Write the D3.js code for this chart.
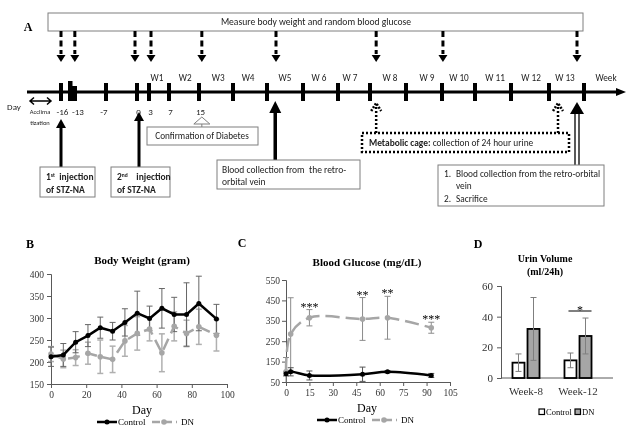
<!DOCTYPE html>
<html>
<head>
<meta charset="utf-8">
<script src="https://cdn.jsdelivr.net/npm/d3@7"></script>
<style>
body { margin: 0; background: #fff; }
svg { display: block; will-change: transform; }
</style>
</head>
<body>
<script>
// ---------- data ----------
// panel A: study timeline (days)
let tickDays = [-16, -13, -7, 0, 3, 7, 15, 21, 28, 35, 42, 49, 56, 63, 70, 77, 84, 91];
let dayLabels = ['-16', '-13', '-7', '0', '3', '7', '15'];
let weekLabels = ['W1', 'W2', 'W3', 'W4', 'W5', 'W 6', 'W 7', 'W 8', 'W 9', 'W 10', 'W 11', 'W 12', 'W 13', 'Week'];
let weekLabelDays = [4.6, 11.3, 18.4, 24.1, 31.5, 38.2, 44.6, 52.9, 60.1, 66.6, 73.9, 80.7, 87.2, 95.4];
let measureDays = [-16, -12.5, -0.45, 3.4, 15.5, 29.75, 50.2, 63.2, 89.6];
let urineDays = [50.2, 85.8];

// panel B: body weight
let bwDays = [0, 7, 14, 21, 28, 35, 42, 49, 56, 63, 70, 77, 84, 94];
let bwControl = [212, 216, 245, 260, 278, 270, 290, 311, 299, 322, 308, 308, 333, 298];
let bwControlErr = [22, 26, 24, 25, 24, 20, 31, 50, 28, 45, 39, 72, 62, 33];
let bwDN = [218, 207, 210, 220, 212, 206, 248, 265, 275, 221, 281, 265, 280, 261];
let bwDNErr = [17, 20, 18, 25, 38, 30, 35, 38, 27, 43, 33, 30, 40, 36];
let bwYTicks = [150, 200, 250, 300, 350, 400];
let bwXTicks = [0, 20, 40, 60, 80, 100];

// panel C: blood glucose
let bgDays = [0, 3, 15, 49, 65, 93];
let bgControl = [90, 100, 82, 88, 100, 82];
let bgControlErr = [10, 20, 22, 35, 5, 10];
let bgDN = [100, 285, 365, 359, 365, 316];
let bgDNErr = [70, 178, 40, 105, 105, 27];
let bgStars = ['', '', '***', '**', '**', '***'];
let bgYTicks = [50, 150, 250, 350, 450, 550];
let bgXTicks = [0, 15, 30, 45, 60, 75, 90, 105];

// panel D: urine volume
let uvWeeks = ['Week-8', 'Week-12'];
let uvGroups = ['Control', 'DN'];
let uvControl = [10, 11.5];
let uvControlErr = [5.7, 4.8];
let uvDN = [32, 27.4];
let uvDNErr = [20.5, 11.7];
let uvYTicks = [0, 20, 40, 60];

// ---------- setup ----------
let width = 628;
let height = 427;
let sans = "Calibri, Carlito, 'Liberation Sans', Arial, sans-serif";
let serif = "'Liberation Serif', 'Times New Roman', serif";
let grey = '#a6a6a6';

let svg = d3.select('body')
.append('svg')
.attr('width', width)
.attr('height', height);

svg.append('rect').attr('width', width).attr('height', height).attr('fill', '#fff');

function label(g, x, y, txt, size, opts) {
    opts = opts || {};
    return g.append('text')
    .attr('x', x).attr('y', y)
    .attr('text-anchor', opts.anchor || 'middle')
    .attr('dy', '0.35em')
    .attr('fill', opts.color || '#222')
    .style('font-family', opts.family || sans)
    .style('font-size', size + 'px')
    .style('font-weight', opts.bold ? 'bold' : 'normal')
    .text(txt);
}

function tri(x, yTip, dir, hw, hl) {
    // dir = 1: pointing down, -1: pointing up
    return d3.line()([[x - hw, yTip - dir * hl], [x, yTip], [x + hw, yTip - dir * hl]]) + 'Z';
}

// ---------- panel A ----------
let gA = svg.append('g');
label(gA, 28, 27, 'A', 12, {family: serif, bold: true, color: '#000'});

gA.append('rect')
.attr('x', 48).attr('y', 13).attr('width', 535).attr('height', 18)
.attr('fill', '#fff').attr('stroke', '#7f7f7f');
label(gA, 316, 22, 'Measure body weight and random blood glucose', 9.6);

let tl = d3.scaleLinear()
.domain(tickDays)
.range([61, 72, 106, 137, 149, 169, 199, 233, 267, 303, 338, 370, 406, 442, 475, 511, 549, 584]);
let lineY = 92;

// dashed measurement arrows
measureDays.forEach(function(d) {
    gA.append('line')
    .attr('x1', tl(d)).attr('x2', tl(d)).attr('y1', 31).attr('y2', 54)
    .attr('stroke', '#000').attr('stroke-width', 3).attr('stroke-dasharray', '6,3.5');
    gA.append('path').attr('d', tri(tl(d), 62, 1, 4.5, 7)).attr('fill', '#000');
});

// main time line
gA.append('line')
.attr('x1', 27).attr('x2', 618).attr('y1', lineY).attr('y2', lineY)
.attr('stroke', '#000').attr('stroke-width', 3);
gA.append('path').attr('d', d3.line()([[616, 88], [626, lineY], [616, 96]]) + 'Z').attr('fill', '#000');

gA.selectAll('rect.tick')
.data(tickDays.filter(d => d !== -13))
.enter()
.append('rect')
.attr('class', 'tick')
.attr('x', d => tl(d) - 2)
.attr('y', 83)
.attr('width', 4)
.attr('height', 18)
.attr('fill', '#000');
gA.append('rect').attr('x', tl(-13) - 4).attr('y', 81).attr('width', 4.5).attr('height', 20).attr('fill', '#000');
gA.append('rect').attr('x', tl(-13)).attr('y', 86).attr('width', 5).attr('height', 15).attr('fill', '#000');

weekLabels.forEach(function(w, i) {
    label(gA, tl(weekLabelDays[i]), 78, w, 9.2);
});
dayLabels.forEach(function(t) {
    let shift = t === '-13' ? 6 : (t === '-7' ? -2 : 1.5);
    label(gA, tl(+t) + shift, 112, t, 9);
});
label(gA, 14, 107, 'Day', 9);

// acclimatization
gA.append('path')
.attr('d', 'M30,101 L51,101 M34,97.5 L30,101 L34,104.5 M47,97.5 L51,101 L47,104.5')
.attr('fill', 'none').attr('stroke', '#000').attr('stroke-width', 1.5);
label(gA, 40, 112, 'Acclima', 6.5);
label(gA, 40, 123, 'tization', 6.5);

// confirmation of diabetes
gA.append('path').attr('d', tri(tl(15.5), 117, -1, 8, 7)).attr('fill', '#fff').attr('stroke', '#7f7f7f');
gA.append('line').attr('x1', tl(15.5)).attr('x2', tl(15.5)).attr('y1', 124).attr('y2', 127).attr('stroke', '#7f7f7f');
gA.append('rect').attr('x', 147).attr('y', 127).attr('width', 111).attr('height', 18)
.attr('fill', '#fff').attr('stroke', '#7f7f7f');
label(gA, 202, 136, 'Confirmation of Diabetes', 9.2);

// injection arrows
[[-16, 119], [0.5, 112]].forEach(function(a) {
    let x = tl(a[0]);
    gA.append('line').attr('x1', x).attr('x2', x).attr('y1', a[1] + 6).attr('y2', 167)
    .attr('stroke', '#000').attr('stroke-width', 3);
    gA.append('path').attr('d', tri(x, a[1], -1, 5, 9)).attr('fill', '#000');
});

function injBox(x, w, sup, ord) {
    gA.append('rect').attr('x', x).attr('y', 167).attr('width', w).attr('height', 30)
    .attr('fill', '#fff').attr('stroke', '#7f7f7f');
    let t = gA.append('text').attr('x', x + 6).attr('y', 180)
    .style('font-family', sans).style('font-size', '9.5px').style('font-weight', 'bold').attr('fill', '#222')
    .attr('xml:space', 'preserve');
    t.append('tspan').text(ord);
    t.append('tspan').attr('dy', -3).style('font-size', '5.5px').text(sup);
    t.append('tspan').attr('dy', 3).text(sup === 'st' ? '  injection' : '    injection');
    gA.append('text').attr('x', x + 6).attr('y', 193)
    .style('font-family', sans).style('font-size', '9.5px').style('font-weight', 'bold').attr('fill', '#222')
    .text('of STZ-NA');
}
injBox(40, 55, 'st', '1');
injBox(111, 59, 'nd', '2');

// blood collection
let xBlood = tl(29.6);
gA.append('line').attr('x1', xBlood).attr('x2', xBlood).attr('y1', 108).attr('y2', 160)
.attr('stroke', '#000').attr('stroke-width', 3.5);
gA.append('path').attr('d', tri(xBlood, 101, -1, 6, 12)).attr('fill', '#000');
gA.append('rect').attr('x', 217).attr('y', 160).attr('width', 143).attr('height', 29)
.attr('fill', '#fff').attr('stroke', '#7f7f7f');
label(gA, 222, 170, 'Blood collection from  the retro-', 9.5, {anchor: 'start'}).attr('xml:space', 'preserve');
label(gA, 222, 182, 'orbital vein', 9.5, {anchor: 'start'});

// metabolic cage
urineDays.forEach(function(d) {
    let x = tl(d);
    gA.append('line').attr('x1', x).attr('x2', x).attr('y1', 133).attr('y2', 106)
    .attr('stroke', '#000').attr('stroke-width', 2.5).attr('stroke-dasharray', '2,2');
    gA.append('path').attr('d', d3.line()([[x - 5, 111], [x, 103], [x + 5, 111]]))
    .attr('fill', 'none').attr('stroke', '#000').attr('stroke-width', 2.5).attr('stroke-dasharray', '2,1.5');
});
gA.append('rect').attr('x', 362).attr('y', 133).attr('width', 207).attr('height', 19)
.attr('fill', '#fff').attr('stroke', '#000').attr('stroke-width', 2.5).attr('stroke-dasharray', '2,2');
let mt = gA.append('text').attr('x', 369).attr('y', 143).attr('dy', '0.35em')
.style('font-family', sans).style('font-size', '9.4px').attr('fill', '#222');
mt.append('tspan').style('font-weight', 'bold').text('Metabolic cage:');
mt.append('tspan').text(' collection of 24 hour urine');

// sacrifice
let xSac = tl(89.6);
gA.append('line').attr('x1', xSac - 2).attr('x2', xSac - 2).attr('y1', 112).attr('y2', 165).attr('stroke', '#000').attr('stroke-width', 1.3);
gA.append('line').attr('x1', xSac + 2).attr('x2', xSac + 2).attr('y1', 112).attr('y2', 165).attr('stroke', '#000').attr('stroke-width', 1.3);
gA.append('path').attr('d', tri(xSac, 102, -1, 7, 12)).attr('fill', '#000');
gA.append('rect').attr('x', 438).attr('y', 165).attr('width', 166).attr('height', 41)
.attr('fill', '#fff').attr('stroke', '#7f7f7f');
label(gA, 444, 174, '1.', 9.3, {anchor: 'start'});
label(gA, 456, 174, 'Blood collection from the retro-orbital', 9.3, {anchor: 'start'});
label(gA, 456, 186, 'vein', 9.3, {anchor: 'start'});
label(gA, 444, 199, '2.', 9.3, {anchor: 'start'});
label(gA, 456, 199, 'Sacrifice', 9.3, {anchor: 'start'});

// ---------- shared helpers for B and C ----------
function styleAxis(g, size) {
    g.attr('font-family', null);
    g.select('.domain').attr('stroke', '#595959');
    g.selectAll('.tick line').attr('stroke', '#595959');
    g.selectAll('.tick text').style('font-family', serif).style('font-size', size + 'px').attr('fill', '#333');
}

function errBars(g, days, vals, errs, x, y, color, w, cap, floor) {
    days.forEach(function(d, i) {
        let lo = Math.max(vals[i] - errs[i], floor);
        let hi = vals[i] + errs[i];
        g.append('line').attr('x1', x(d)).attr('x2', x(d)).attr('y1', y(lo)).attr('y2', y(hi))
        .attr('stroke', color).attr('stroke-width', w);
        g.append('line').attr('x1', x(d) - cap).attr('x2', x(d) + cap).attr('y1', y(hi)).attr('y2', y(hi))
        .attr('stroke', color).attr('stroke-width', w);
        if (vals[i] - errs[i] >= floor) {
            g.append('line').attr('x1', x(d) - cap).attr('x2', x(d) + cap).attr('y1', y(lo)).attr('y2', y(lo))
            .attr('stroke', color).attr('stroke-width', w);
        }
    });
}

function legend(g, x0, y0) {
    g.append('line').attr('x1', x0).attr('x2', x0 + 20).attr('y1', y0).attr('y2', y0)
    .attr('stroke', '#000').attr('stroke-width', 2.5);
    g.append('circle').attr('cx', x0 + 10).attr('cy', y0).attr('r', 2.5).attr('fill', '#000');
    label(g, x0 + 21, y0, 'Control', 9, {anchor: 'start', family: serif, color: '#000'});
    g.append('line').attr('x1', x0 + 55).attr('x2', x0 + 80).attr('y1', y0).attr('y2', y0)
    .attr('stroke', grey).attr('stroke-width', 2.5).attr('stroke-dasharray', '8,4');
    g.append('circle').attr('cx', x0 + 67).attr('cy', y0).attr('r', 2.8).attr('fill', grey);
    label(g, x0 + 84, y0, 'DN', 9, {anchor: 'start', family: serif, color: '#000'});
}

// ---------- panel B ----------
let gB = svg.append('g');
label(gB, 30, 244, 'B', 12, {family: serif, bold: true, color: '#000'});
label(gB, 142, 260, 'Body Weight (gram)', 11, {family: serif, bold: true, color: '#000'});

let xB = d3.scaleLinear().domain([0, 100]).range([51, 227]);
let yB = d3.scaleLinear().domain([150, 400]).range([384, 274]);

let axBy = gB.append('g').attr('transform', 'translate(51,0)')
.call(d3.axisLeft(yB).tickValues(bwYTicks).tickSize(4).tickPadding(3));
styleAxis(axBy, 9.5);
let axBx = gB.append('g').attr('transform', 'translate(0,384)')
.call(d3.axisBottom(xB).tickValues(bwXTicks).tickSize(4).tickPadding(3));
styleAxis(axBx, 9.5);
label(gB, 142, 410, 'Day', 12, {family: serif, color: '#000'});

errBars(gB, bwDays, bwDN, bwDNErr, xB, yB, '#b0b0b0', 1.5, 3, 150);
errBars(gB, bwDays, bwControl, bwControlErr, xB, yB, '#666', 1, 3, 150);

let lineB = function(vals) {
    return d3.line().x((d, i) => xB(bwDays[i])).y(d => yB(d))(vals);
};
gB.append('path').attr('d', lineB(bwDN)).attr('fill', 'none')
.attr('stroke', grey).attr('stroke-width', 2.5).attr('stroke-dasharray', '12,6');
gB.selectAll('circle.dn').data(bwDN).enter().append('circle')
.attr('cx', (d, i) => xB(bwDays[i])).attr('cy', d => yB(d)).attr('r', 2.8).attr('fill', grey);
gB.append('path').attr('d', lineB(bwControl)).attr('fill', 'none')
.attr('stroke', '#000').attr('stroke-width', 2.5);
gB.selectAll('circle.ct').data(bwControl).enter().append('circle')
.attr('cx', (d, i) => xB(bwDays[i])).attr('cy', d => yB(d)).attr('r', 2.5).attr('fill', '#000');

legend(gB, 97, 422);

// ---------- panel C ----------
let gC = svg.append('g');
label(gC, 242, 243, 'C', 12, {family: serif, bold: true, color: '#000'});
label(gC, 367, 262, 'Blood Glucose (mg/dL)', 11, {family: serif, bold: true, color: '#000'});

let xC = d3.scaleLinear().domain([0, 105]).range([286, 450]);
let yC = d3.scaleLinear().domain([50, 550]).range([382, 280]);

let axCy = gC.append('g').attr('transform', 'translate(286,0)')
.call(d3.axisLeft(yC).tickValues(bgYTicks).tickSize(4).tickPadding(2));
styleAxis(axCy, 9.5);
let axCx = gC.append('g').attr('transform', 'translate(0,382)')
.call(d3.axisBottom(xC).tickValues(bgXTicks).tickSize(4).tickPadding(3));
styleAxis(axCx, 9.5);
label(gC, 367, 408, 'Day', 12, {family: serif, color: '#000'});

errBars(gC, bgDays, bgDN, bgDNErr, xC, yC, '#8c8c8c', 1, 3, 50);
errBars(gC, bgDays, bgControl, bgControlErr, xC, yC, '#555', 1, 3, 50);

let lineC = function(vals) {
    return d3.line().curve(d3.curveCatmullRom.alpha(0.5)).x((d, i) => xC(bgDays[i])).y(d => yC(d))(vals);
};
gC.append('path').attr('d', lineC(bgDN)).attr('fill', 'none')
.attr('stroke', grey).attr('stroke-width', 2.5).attr('stroke-dasharray', '14,6');
gC.selectAll('circle.dn').data(bgDN).enter().append('circle')
.attr('cx', (d, i) => xC(bgDays[i])).attr('cy', d => yC(d)).attr('r', 2.8).attr('fill', grey);
gC.append('path').attr('d', lineC(bgControl)).attr('fill', 'none')
.attr('stroke', '#000').attr('stroke-width', 2.5);
gC.selectAll('circle.ct').data(bgControl).enter().append('circle')
.attr('cx', (d, i) => xC(bgDays[i])).attr('cy', d => yC(d)).attr('r', 2.5).attr('fill', '#000');

bgStars.forEach(function(s, i) {
    if (!s) return;
    gC.append('text')
    .attr('x', xC(bgDays[i])).attr('y', yC(bgDN[i] + bgDNErr[i]) + 1)
    .attr('text-anchor', 'middle')
    .style('font-family', serif).style('font-size', '12px').attr('fill', '#000')
    .text(s);
});

legend(gC, 317, 420);

// ---------- panel D ----------
let gD = svg.append('g');
label(gD, 478, 244, 'D', 12, {family: serif, bold: true, color: '#000'});
label(gD, 545, 258, 'Urin Volume', 10, {family: serif, bold: true, color: '#000'});
label(gD, 545, 271, '(ml/24h)', 10, {family: serif, bold: true, color: '#000'});

let xD = d3.scaleBand().domain(uvWeeks).range([500, 604]).paddingInner(0.48).paddingOuter(0.24);
let xDin = d3.scaleBand().domain(uvGroups).range([0, xD.bandwidth()]).paddingInner(0.2);
let yD = d3.scaleLinear().domain([0, 60]).range([378, 286]);

let axDy = gD.append('g').attr('transform', 'translate(501,0)')
.call(d3.axisLeft(yD).tickValues(uvYTicks).tickSize(4).tickPadding(4));
styleAxis(axDy, 11);
let axDx = gD.append('g').attr('transform', 'translate(0,378)')
.call(d3.axisBottom(xD).tickSize(0).tickPadding(9));
axDx.select('.domain').attr('d', 'M501,0H613');
styleAxis(axDx, 11);

let uvRows = uvWeeks.map(function(w, i) {
    return [
        {week: w, group: 'Control', v: uvControl[i], e: uvControlErr[i]},
        {week: w, group: 'DN', v: uvDN[i], e: uvDNErr[i]}
    ];
}).flat();

gD.selectAll('rect.bar').data(uvRows).enter().append('rect')
.attr('x', d => xD(d.week) + xDin(d.group))
.attr('y', d => yD(d.v))
.attr('width', xDin.bandwidth())
.attr('height', d => yD(0) - yD(d.v))
.attr('fill', d => d.group === 'DN' ? grey : '#fff')
.attr('stroke', '#000').attr('stroke-width', 1.8);

uvRows.forEach(function(d) {
    let cx = xD(d.week) + xDin(d.group) + xDin.bandwidth() / 2;
    gD.append('path')
    .attr('d', 'M' + (cx - 3) + ',' + yD(d.v + d.e) + 'H' + (cx + 3) + 'M' + cx + ',' + yD(d.v + d.e) + 'V' + yD(d.v - d.e)
        + 'M' + (cx - 3) + ',' + yD(d.v - d.e) + 'H' + (cx + 3))
    .attr('fill', 'none').attr('stroke', '#7f7f7f').attr('stroke-width', 1);
});

// significance at week 12
let sigX0 = xD('Week-12') + xDin('Control') + 4;
let sigX1 = xD('Week-12') + xDin('DN') + xDin.bandwidth();
gD.append('line').attr('x1', sigX0).attr('x2', sigX1).attr('y1', 311).attr('y2', 311)
.attr('stroke', '#000').attr('stroke-width', 1);
gD.append('text').attr('x', (sigX0 + sigX1) / 2).attr('y', 314).attr('text-anchor', 'middle')
.style('font-family', serif).style('font-size', '12px').attr('fill', '#000').text('*');

// legend D
gD.append('rect').attr('x', 539).attr('y', 409).attr('width', 5.5).attr('height', 5.5).attr('fill', '#fff').attr('stroke', '#000').attr('stroke-width', 1.2);
label(gD, 546, 412, 'Control', 8.5, {anchor: 'start', family: serif, color: '#000'});
gD.append('rect').attr('x', 575).attr('y', 409).attr('width', 5.5).attr('height', 5.5).attr('fill', grey).attr('stroke', '#000').attr('stroke-width', 1.2);
label(gD, 582, 412, 'DN', 8.5, {anchor: 'start', family: serif, color: '#000'});
</script>
</body>
</html>
